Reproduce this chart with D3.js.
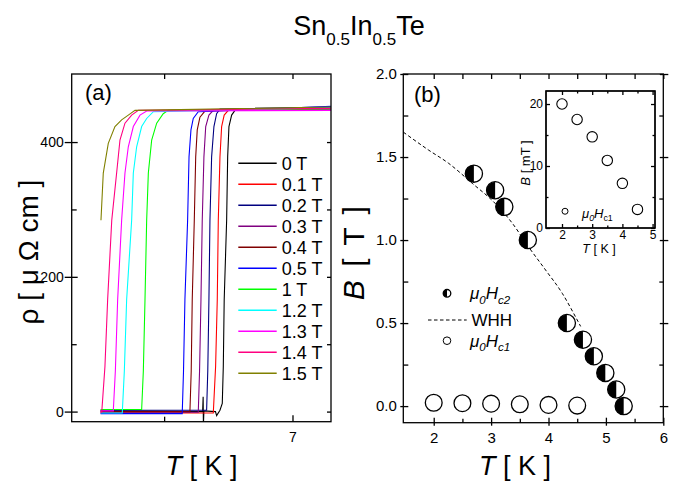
<!DOCTYPE html>
<html>
<head>
<meta charset="utf-8">
<script src="https://cdn.jsdelivr.net/npm/d3@7"></script>
<style>
  body { margin: 0; background: #fff; }
  svg text { font-family: "Liberation Sans", Arial, sans-serif; fill: #000; }
  .domain { display: none; }
</style>
</head>
<body>
<svg id="fig" width="674" height="483"></svg>
<script>
// ---------------- panel (a): resistivity vs temperature ----------------
const fieldLabels = ["0 T", "0.1 T", "0.2 T", "0.3 T", "0.4 T", "0.5 T", "1 T", "1.2 T", "1.3 T", "1.4 T", "1.5 T"];
const fieldColors = ["#000000", "#ff0000", "#000080", "#800080", "#800000", "#0000ff", "#00ff00", "#00ffff", "#ff00ff", "#ff0080", "#808000"];

// [T (K), rho (μΩ cm)]
const rho_0T  = [[5.505,1],[6.300,0],[6.304,22],[6.306,-20],[6.310,1],[6.400,0],[6.409,-6],[6.435,2],[6.453,12],[6.461,67],[6.468,166],[6.487,284],[6.495,378],[6.505,423],[6.526,440],[6.552,447],[7.30,451]];
const rho_01T = [[5.505,-2],[6.383,-2],[6.401,67],[6.414,166],[6.422,284],[6.435,378],[6.448,423],[6.468,440],[6.500,447],[7.30,449]];
const rho_02T = [[5.505,2],[6.331,2],[6.340,60],[6.349,166],[6.357,284],[6.370,378],[6.388,423],[6.409,442],[6.435,449],[7.30,452]];
const rho_03T = [[5.505,-1],[6.266,-1],[6.276,60],[6.287,166],[6.297,284],[6.310,378],[6.324,423],[6.349,440],[6.383,447],[7.30,448]];
const rho_04T = [[5.505,0],[6.201,0],[6.211,60],[6.219,166],[6.235,284],[6.246,378],[6.258,418],[6.279,437],[6.318,446],[7.30,450]];
const rho_05T = [[5.505,-3],[6.141,-3],[6.151,60],[6.162,166],[6.183,284],[6.194,378],[6.209,418],[6.227,435],[6.266,445],[7.30,453]];
const rho_1T  = [[5.505,3],[5.825,3],[5.838,60],[5.851,166],[5.864,284],[5.877,354],[5.903,403],[5.942,428],[5.993,442],[6.032,447],[7.30,449]];
const rho_12T = [[5.505,-2],[5.674,-2],[5.690,60],[5.708,166],[5.747,284],[5.760,354],[5.786,393],[5.825,423],[5.864,435],[5.916,445],[7.30,451]];
const rho_13T = [[5.505,1],[5.604,1],[5.620,60],[5.638,166],[5.669,284],[5.695,354],[5.721,393],[5.760,423],[5.812,440],[5.864,446],[7.30,447]];
const rho_14T = [[5.505,-1],[5.514,-1],[5.539,67],[5.560,166],[5.592,284],[5.630,354],[5.656,403],[5.695,428],[5.747,440],[5.799,447],[7.30,450]];
const rho_15T = [[5.508,284],[5.526,354],[5.565,398],[5.617,423],[5.669,433],[5.721,440],[5.773,447],[7.30,452]];
const rhoCurves = [rho_0T, rho_01T, rho_02T, rho_03T, rho_04T, rho_05T, rho_1T, rho_12T, rho_13T, rho_14T, rho_15T];

const rhoMajor = [0, 200, 400];
const rhoMinor = [100, 300];
const tempMajorA = [7];
const tempMinorA = [6];

// ---------------- panel (b): critical fields ----------------
const hc2T = [2.70, 3.07, 3.23, 3.64, 4.32, 4.60, 4.79, 4.99, 5.18, 5.31];
const hc2B = [1.4, 1.3, 1.2, 1.0, 0.5, 0.4, 0.3, 0.2, 0.1, 0.0];
const hc1T = [2.0, 2.5, 3.0, 3.5, 4.0, 4.5];
const hc1mT = [20.0, 17.5, 14.7, 10.9, 7.2, 3.0];
const whhT = [1.47, 1.91, 2.26, 2.67, 3.07, 3.37, 3.65, 3.95, 4.24, 4.47, 4.56];
const whhB = [1.65, 1.542, 1.462, 1.342, 1.221, 1.101, 0.960, 0.819, 0.679, 0.538, 0.48];

const bMajor = [0, 0.5, 1.0, 1.5, 2.0];
const bMinor = [0.25, 0.75, 1.25, 1.75];
const tempMajorB = [2, 3, 4, 5, 6];
const tempMinorB = [2.5, 3.5, 4.5, 5.5];

const insetTMajor = [2, 3, 4, 5];
const insetTMinor = [2.5, 3.5, 4.5];
const insetBMajor = [0, 10, 20];
const insetBMinor = [5, 15];

// ---------------- drawing ----------------
const svg = d3.select("#fig");
const AX = 1.3;

function tickSet(g, axisFn, scale, vals, size, transform, fmt, pad, fontSize) {
  const ax = axisFn(scale).tickValues(vals).tickSize(size).tickPadding(pad == null ? 3 : pad)
    .tickFormat(fmt || (() => ""));
  const sel = g.append("g").attr("transform", transform).call(ax);
  sel.selectAll(".tick line").attr("stroke", "#000").attr("stroke-width", AX);
  sel.selectAll(".tick text").attr("font-size", fontSize || 14).attr("fill", "#000");
  return sel;
}

function frame(g, x0, y0, x1, y1, fill) {
  g.append("rect").attr("x", x0).attr("y", y0).attr("width", x1 - x0).attr("height", y1 - y0)
    .attr("fill", fill || "none").attr("stroke", "#000").attr("stroke-width", AX);
}

// title
const title = svg.append("text").attr("x", 359).attr("y", 35).attr("text-anchor", "middle").attr("font-size", 27);
title.append("tspan").text("Sn");
title.append("tspan").attr("font-size", 17).attr("dy", 10).text("0.5");
title.append("tspan").attr("dy", -10).text("In");
title.append("tspan").attr("font-size", 17).attr("dy", 10).text("0.5");
title.append("tspan").attr("dy", -10).text("Te");

// ---- panel (a)
const A = { x0: 71.7, x1: 331, y0: 74, y1: 421.7 };
const xA = d3.scaleLinear([5.28, 7.3], [A.x0, A.x1]);
const yA = d3.scaleLinear([-15, 501], [A.y1, A.y0]);
const gA = svg.append("g");

svg.append("clipPath").attr("id", "clipA").append("rect")
  .attr("x", A.x0).attr("y", A.y0).attr("width", A.x1 - A.x0).attr("height", A.y1 - A.y0);

const lineA = d3.line().x(d => xA(d[0])).y(d => yA(d[1]));
gA.append("g").attr("clip-path", "url(#clipA)")
  .selectAll("path").data(rhoCurves).join("path")
  .attr("d", lineA).attr("fill", "none")
  .attr("stroke", (d, i) => fieldColors[i]).attr("stroke-width", 1.1);

// axes (a)
tickSet(gA, d3.axisLeft, yA, rhoMajor, 7, `translate(${A.x0},0)`, d3.format("d"), 1, 14);
tickSet(gA, d3.axisLeft, yA, rhoMajor, -6, `translate(${A.x0},0)`);
tickSet(gA, d3.axisLeft, yA, rhoMinor, -5, `translate(${A.x0},0)`);
tickSet(gA, d3.axisRight, yA, rhoMajor.concat(rhoMinor), -4, `translate(${A.x1},0)`);
tickSet(gA, d3.axisBottom, xA, tempMajorA, -6.5, `translate(0,${A.y1})`, d3.format("d"), 10, 14);
tickSet(gA, d3.axisBottom, xA, tempMinorA, -5, `translate(0,${A.y1})`);
tickSet(gA, d3.axisTop, xA, tempMajorA.concat(tempMinorA), -5, `translate(0,${A.y0})`);
frame(gA, A.x0, A.y0, A.x1, A.y1);

gA.append("text").attr("x", 85).attr("y", 100).attr("font-size", 22).text("(a)");

// legend (a)
const legA = gA.append("g");
fieldLabels.forEach((lab, i) => {
  const y = 163.3 + i * 21.0;
  legA.append("line").attr("x1", 238.3).attr("x2", 276.7).attr("y1", y).attr("y2", y)
    .attr("stroke", fieldColors[i]).attr("stroke-width", 1.4);
  legA.append("text").attr("x", 281.7).attr("y", y + 6.5).attr("font-size", 18).text(lab);
});

// axis titles (a)
const xtA = gA.append("text").attr("x", 201.5).attr("y", 475).attr("text-anchor", "middle").attr("font-size", 27);
xtA.append("tspan").attr("font-style", "italic").text("T");
xtA.append("tspan").text(" [ K ]");
gA.append("text").attr("transform", "translate(38,252) rotate(-90)")
  .attr("text-anchor", "middle").attr("font-size", 28).text("ρ [ μ Ω cm ]");

// ---- panel (b)
const B = { x0: 403.3, x1: 663.3, y0: 74, y1: 422.7 };
const xB = d3.scaleLinear([1.47, 6], [B.x0, B.x1]);
const yB = d3.scaleLinear([-0.1, 2.0], [B.y1, B.y0]);
const gB = svg.append("g");

tickSet(gB, d3.axisLeft, yB, bMajor, 3, `translate(${B.x0},0)`, d3.format(".1f"), 3.5, 15);
tickSet(gB, d3.axisLeft, yB, bMajor, -5, `translate(${B.x0},0)`);
tickSet(gB, d3.axisLeft, yB, bMinor, -5, `translate(${B.x0},0)`);
tickSet(gB, d3.axisRight, yB, bMajor, 5, `translate(${B.x1},0)`);
tickSet(gB, d3.axisRight, yB, bMajor, -3.5, `translate(${B.x1},0)`);
tickSet(gB, d3.axisRight, yB, bMinor, -4, `translate(${B.x1},0)`);
tickSet(gB, d3.axisBottom, xB, tempMajorB, 3, `translate(0,${B.y1})`, d3.format("d"), 7, 15);
tickSet(gB, d3.axisBottom, xB, tempMajorB, -5, `translate(0,${B.y1})`);
tickSet(gB, d3.axisBottom, xB, tempMinorB, -4, `translate(0,${B.y1})`);
tickSet(gB, d3.axisTop, xB, tempMajorB.concat(tempMinorB), -5, `translate(0,${B.y0})`);
frame(gB, B.x0, B.y0, B.x1, B.y1);

gB.append("text").attr("x", 414).attr("y", 102).attr("font-size", 22).text("(b)");

// WHH fit
const whh = whhT.map((t, i) => [t, whhB[i]]);
gB.append("path").datum(whh)
  .attr("d", d3.line().x(d => xB(d[0])).y(d => yB(d[1])).curve(d3.curveMonotoneX))
  .attr("fill", "none").attr("stroke", "#000").attr("stroke-width", 1).attr("stroke-dasharray", "3.5,2.5");

// Hc1 (open circles), in tesla
const hc1 = hc1T.map((t, i) => [t, hc1mT[i] / 1000]);
gB.append("g").selectAll("circle").data(hc1).join("circle")
  .attr("cx", d => xB(d[0])).attr("cy", d => yB(d[1])).attr("r", 8.4)
  .attr("fill", "#fff").attr("stroke", "#000").attr("stroke-width", AX);

// Hc2 (half-filled circles)
const halfArc = r => d3.arc()({ innerRadius: 0, outerRadius: r, startAngle: Math.PI, endAngle: 2 * Math.PI });
function halfCircle(sel, r) {
  sel.append("circle").attr("r", r).attr("fill", "#fff");
  sel.append("path").attr("d", halfArc(r)).attr("fill", "#000");
  sel.append("circle").attr("r", r).attr("fill", "none").attr("stroke", "#000").attr("stroke-width", AX);
}
const hc2 = hc2T.map((t, i) => [t, hc2B[i]]);
gB.append("g").selectAll("g").data(hc2).join("g")
  .attr("transform", d => `translate(${xB(d[0])},${yB(d[1])})`)
  .each(function () { halfCircle(d3.select(this), 8.6); });

// legend (b)
function muH(sel, x, y, fs, sub, subItalic) {
  const t = sel.append("text").attr("x", x).attr("y", y).attr("font-size", fs);
  t.append("tspan").attr("font-style", "italic").text("μ");
  t.append("tspan").attr("font-style", "italic").attr("font-size", fs * 0.68).attr("dy", fs * 0.28).text("0");
  t.append("tspan").attr("font-style", "italic").attr("dy", -fs * 0.28).text("H");
  t.append("tspan").attr("font-style", subItalic ? "italic" : "normal").attr("font-size", fs * 0.68).attr("dy", fs * 0.28).text(sub);
  return t;
}
const legB = gB.append("g");
halfCircle(legB.append("g").attr("transform", "translate(447,293.3)"), 3.8);
muH(legB, 470, 299, 17, "c2", true);
legB.append("line").attr("x1", 428).attr("x2", 466.7).attr("y1", 320).attr("y2", 320)
  .attr("stroke", "#000").attr("stroke-width", 1).attr("stroke-dasharray", "3.5,2.5");
legB.append("text").attr("x", 471.5).attr("y", 326).attr("font-size", 17).text("WHH");
legB.append("circle").attr("cx", 447).attr("cy", 340.7).attr("r", 3.8)
  .attr("fill", "#fff").attr("stroke", "#000").attr("stroke-width", 1);
muH(legB, 470, 346.5, 17, "c1", true);

// axis titles (b)
const xtB = gB.append("text").attr("x", 515).attr("y", 475).attr("text-anchor", "middle").attr("font-size", 27);
xtB.append("tspan").attr("font-style", "italic").text("T");
xtB.append("tspan").text(" [ K ]");
const ytB = gB.append("text").attr("transform", "translate(364,252) rotate(-90)")
  .attr("text-anchor", "middle").attr("font-size", 30).attr("letter-spacing", 2.5);
ytB.append("tspan").attr("font-style", "italic").text("B");
ytB.append("tspan").text(" [ T ]");

// ---- inset: Hc1 in mT
const I = { x0: 546, x1: 655, y0: 91, y1: 228 };
const xI = d3.scaleLinear([1.47, 5.08], [I.x0, I.x1]);
const yI = d3.scaleLinear([0, 22.1], [I.y1, I.y0]);
const gI = svg.append("g");
frame(gI, I.x0, I.y0, I.x1, I.y1, "#fff");
tickSet(gI, d3.axisLeft, yI, insetBMajor, -4, `translate(${I.x0},0)`, d3.format("d"), 3, 12);
tickSet(gI, d3.axisLeft, yI, insetBMinor, -2.5, `translate(${I.x0},0)`);
tickSet(gI, d3.axisRight, yI, insetBMajor, -4, `translate(${I.x1},0)`);
tickSet(gI, d3.axisRight, yI, insetBMinor, -2.5, `translate(${I.x1},0)`);
tickSet(gI, d3.axisBottom, xI, insetTMajor, -4, `translate(0,${I.y1})`, d3.format("d"), 2, 12);
tickSet(gI, d3.axisBottom, xI, insetTMinor, -2.5, `translate(0,${I.y1})`);
tickSet(gI, d3.axisTop, xI, insetTMajor, -4, `translate(0,${I.y0})`);
tickSet(gI, d3.axisTop, xI, insetTMinor, -2.5, `translate(0,${I.y0})`);
frame(gI, I.x0, I.y0, I.x1, I.y1);

gI.append("g").selectAll("circle").data(hc1T.map((t, i) => [t, hc1mT[i]])).join("circle")
  .attr("cx", d => xI(d[0])).attr("cy", d => yI(d[1])).attr("r", 5.2)
  .attr("fill", "#fff").attr("stroke", "#000").attr("stroke-width", 1.1);

gI.append("circle").attr("cx", xI(2.1)).attr("cy", yI(2.7)).attr("r", 3)
  .attr("fill", "#fff").attr("stroke", "#000").attr("stroke-width", 1);
muH(gI, 582, 217.5, 13, "c1", false);

const xtI = gI.append("text").attr("x", 599).attr("y", 253).attr("text-anchor", "middle").attr("font-size", 12.5);
xtI.append("tspan").attr("font-style", "italic").text("T");
xtI.append("tspan").text(" [ K ]");
const ytI = gI.append("text").attr("transform", "translate(530,163) rotate(-90)")
  .attr("text-anchor", "middle").attr("font-size", 13);
ytI.append("tspan").attr("font-style", "italic").text("B");
ytI.append("tspan").text(" [ mT ]");
</script>
</body>
</html>
